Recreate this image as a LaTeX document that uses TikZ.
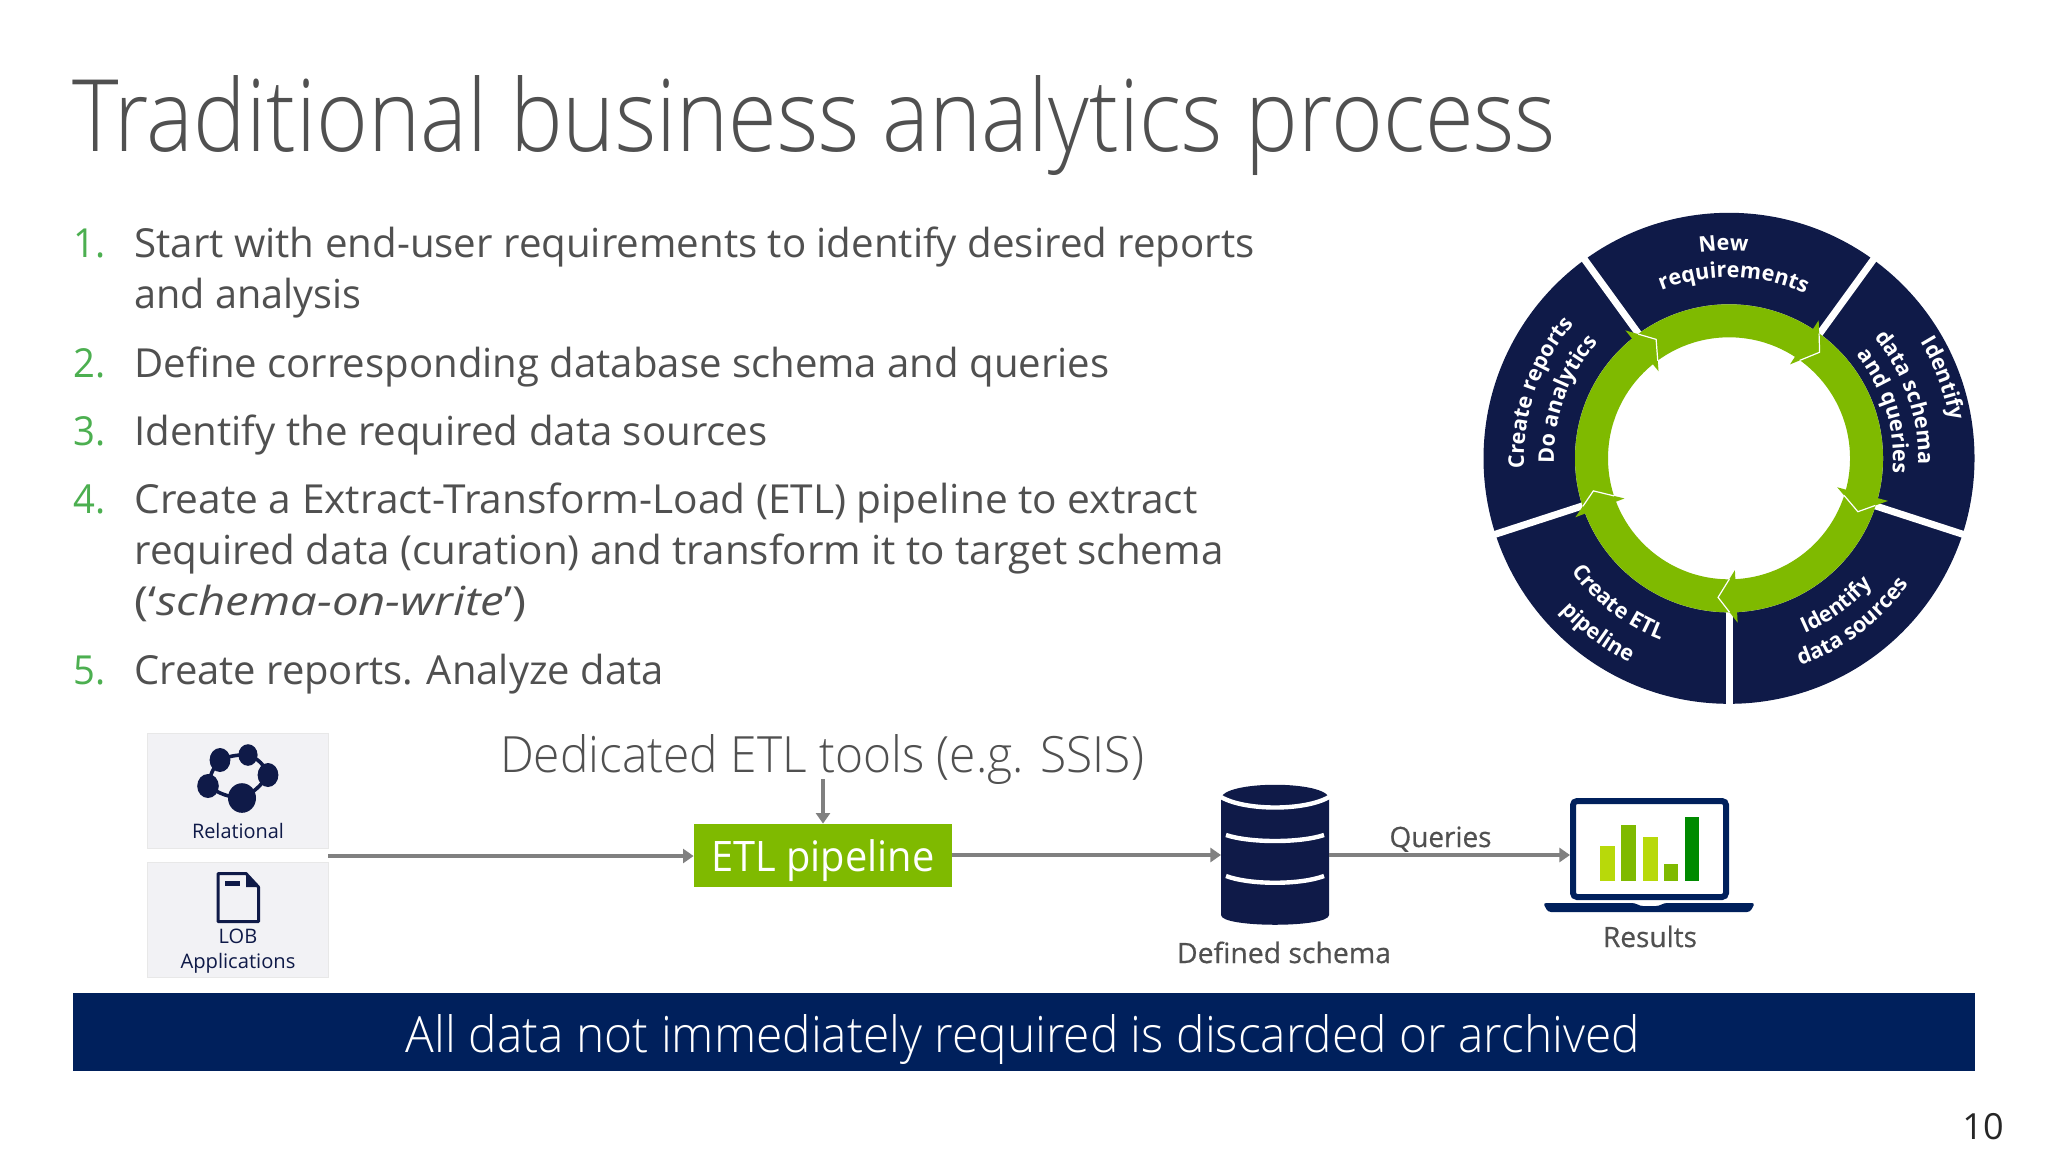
\documentclass[tikz,border=0pt]{standalone}
\usepackage{fontspec}
\usepackage{graphicx}
\usetikzlibrary{arrows.meta,calc,decorations.text}
\setmainfont{Open Sans}
\newfontfamily\lightf{Open Sans Light}
\newfontfamily\medf[FakeBold=0.5]{Open Sans}
\definecolor{navy}{HTML}{0F1A48}
\definecolor{barblue}{HTML}{00205C}
\definecolor{msgreen}{HTML}{7FBA00}
\definecolor{limeg}{HTML}{B8D90A}
\definecolor{darkg}{HTML}{008A00}
\definecolor{numg}{HTML}{4CAF50}
\definecolor{bodyc}{HTML}{505050}
\definecolor{flowc}{HTML}{808080}
\definecolor{srcfill}{HTML}{F2F2F5}
\newcommand{\fw}[2]{\resizebox{\dimexpr#1pt/2\relax}{\height}{#2}}
\newcommand{\wheelfont}{\bfseries\fontsize{10.8pt}{12pt}\selectfont}
\newcommand{\arctext}[5]{% radius, centre angle, half span, sign(-1 clockwise,1 ccw), text
  \pgfmathsetmacro{\sa}{#2-#4*#3}
  \pgfmathsetmacro{\ea}{#2+#4*#3}
  \path[decorate,decoration={text along path,text align=center,text color=white,text={|\wheelfont|#5}}]
    (\sa:#1) arc[start angle=\sa,end angle=\ea,radius={#1*0.5pt}];
}
\tikzset{
  x=0.5pt,y=-0.5pt,
  txt/.style={inner sep=0pt,outer sep=0pt,anchor=base west},
  ctxt/.style={inner sep=0pt,outer sep=0pt,anchor=base},
  bodytxt/.style={txt,text=bodyc,font=\fontsize{20pt}{24pt}\selectfont},
  numtxt/.style={txt,text=numg,font=\fontsize{20pt}{24pt}\selectfont},
  srcbox/.style={draw=black!9,fill=srcfill,line width=0.5pt,minimum width=90.5pt,minimum height=57.5pt,inner sep=0pt},
  srctxt/.style={ctxt,text=navy,font=\fontsize{10pt}{12pt}\selectfont},
  grtxt/.style={ctxt,text=bodyc,font=\medf\fontsize{14pt}{16pt}\selectfont},
  flow/.style={draw=flowc,line width=2.4pt,-{Triangle[length=5.3pt,width=7pt]}},
  ghost/.style={inner sep=0pt,outer sep=0pt,minimum width=#1},
}
\begin{document}
\begin{tikzpicture}
\useasboundingbox (0,0) rectangle (2048,1152);
\fill[white] (0,0) rectangle (2048,1152);

% Title
\node[txt,text=bodyc,font=\lightf\fontsize{50pt}{60pt}\selectfont] (title) at (72,151) {\fw{1484}{Traditional business analytics process}};

% List
\node[numtxt] (n1) at (74,257) {\fw{32}{1.}};
\node[bodytxt] (l1a) at (134.5,257) {\fw{1120}{Start with end-user requirements to identify desired reports}};
\node[bodytxt] (l1b) at (134.5,308) {\fw{227}{and analysis}};
\node[numtxt] (n2) at (74,377) {\fw{32}{2.}};
\node[bodytxt] (l2) at (134.5,377) {\fw{975}{Define corresponding database schema and queries}};
\node[numtxt] (n3) at (74,445) {\fw{32}{3.}};
\node[bodytxt] (l3) at (134.5,445) {\fw{633}{Identify the required data sources}};
\node[numtxt] (n4) at (74,513) {\fw{32}{4.}};
\node[bodytxt] (l4a) at (134.5,513) {\fw{1063}{Create a Extract-Transform-Load (ETL) pipeline to extract}};
\node[bodytxt] (l4b) at (134.5,564) {\fw{1089}{required data (curation) and transform it to target schema}};
\node[bodytxt] (l4c) at (134.5,615) {\fw{392}{(‘\textit{schema-on-write}’)}};
\node[numtxt] (n5) at (74,684) {\fw{32}{5.}};
\node[bodytxt] (l5) at (134.5,684) {\fw{529}{Create reports. Analyze data}};

% Wheel
\begin{scope}[shift={(1729,458.3)},x=0.5pt,y=0.5pt]
  \fill[navy] (0,0) circle[radius=122.75pt];
  \foreach \a in {54,126,198,270,342}
    \draw[white,line width=3.5pt] (\a:140) -- (\a:250);
  \fill[white] (0,0) circle[radius=77pt];
  \fill[msgreen,even odd rule] (0,0) circle[radius=77pt] (0,0) circle[radius=60.5pt];
  \foreach \k in {0,...,4}{
    \pgfmathsetmacro{\ab}{57+72*\k}
    \pgfmathsetmacro{\at}{49.5+72*\k}
    \coordinate (ho) at (\ab:164.6);
    \coordinate (hi) at (\ab:112);
    \coordinate (ht) at (\at:139.5);
    \fill[msgreen] (ho) -- (ht) -- (hi) -- cycle;
    \draw[white,line width=0.6pt,line join=miter] ($(ht)!0.58!(ho)$) -- (ht) -- ($(ht)!0.67!(hi)$);
  }
  \arctext{208}{91.5}{40}{-1}{New}
  \arctext{181}{88.5}{42}{-1}{requirements}
  \arctext{224}{20.5}{35}{-1}{Identify}
  \arctext{189}{19}{42}{-1}{data schema}
  \arctext{164}{17}{48}{-1}{and queries}
  \arctext{205}{161}{42}{-1}{Create reports}
  \arctext{175}{160}{45}{-1}{Do analytics}
  \arctext{194}{232.5}{40}{1}{Create ETL}
  \arctext{227}{233}{30}{1}{pipeline}
  \arctext{191}{306}{30}{1}{Identify}
  \arctext{219}{307}{38}{1}{data sources}
\end{scope}

% Source boxes
\node[srcbox] (rel) at (237.5,790.5) {};
\node[srcbox] (lob) at (237.5,919.5) {};
\node[srctxt] (reltxt) at (238,838) {\fw{92}{Relational}};
\node[srctxt] (lobtxt) at (238,943) {LOB};
\node[srctxt] (apptxt) at (238,968) {\fw{115}{Applications}};
% relational icon
\draw[navy,line width=1.8pt] (220,760) to[bend left=12] (248,755) to[bend left=25] (268,775) to[bend left=15] (242,798) to[bend left=15] (208,786) to[bend left=15] cycle;
\fill[navy] (220,760) ellipse[x radius=5.2pt,y radius=6pt] (248,755) ellipse[x radius=4.8pt,y radius=5.4pt] (268,775) ellipse[x radius=5.2pt,y radius=6pt] (208,786) ellipse[x radius=5.4pt,y radius=6pt] (242,798) ellipse[x radius=7pt,y radius=7.4pt];
% document icon
\draw[navy,line width=1.5pt,line join=round] (218,873.5) -- (246,873.5) -- (258.5,887) -- (258.5,921.5) -- (218,921.5) -- cycle;
\fill[navy] (246,873.5) -- (258.5,887) -- (246,887) -- cycle;
\fill[navy] (225,881) rectangle (240,886);

% ETL
\coordinate (srcout) at (328,856);
\node[fill=msgreen,minimum width=129pt,minimum height=31.5pt,inner sep=0pt] (etl) at (823,855.5) {};
\node[ctxt,text=white,font=\fontsize{21pt}{24pt}\selectfont] (etltxt) at (823,871) {\fw{223}{ETL pipeline}};
\node[ctxt,text=bodyc,font=\lightf\fontsize{25pt}{30pt}\selectfont] (tools) at (822,772) {\fw{644}{Dedicated ETL tools (e.g. SSIS)}};
\coordinate (toolout) at (823,779);
\draw[flow] (srcout) -- (etl.west |- srcout);
\draw[flow] (toolout) -- (etl.north);

% Database
\node[ghost=54pt,minimum height=70pt] (db) at (1275,855) {};
\fill[navy] (1221,799)
  .. controls (1221,780) and (1329,780) .. (1329,799)
  -- (1329,915) .. controls (1329,928) and (1221,928) .. (1221,915) -- cycle;
\draw[white,line width=2.2pt] (1221,797) .. controls (1245,811) and (1305,811) .. (1329,797);
\draw[white,line width=2.2pt] (1226,835) .. controls (1250,843) and (1300,843) .. (1324,835);
\draw[white,line width=2.2pt] (1226,876) .. controls (1250,885) and (1300,885) .. (1324,876);

% Laptop
\node[ghost=79.5pt,minimum height=51pt] (lap) at (1649.5,849) {};
\draw[barblue,line width=3pt,rounded corners=2pt] (1573,801) rectangle (1726,897);
\fill[barblue,rounded corners=1.5pt] (1543,903) -- (1635,903) -- (1640,906) -- (1659,906) -- (1664,903) -- (1755,903) -- (1750,912) -- (1548,912) -- cycle;
\fill[limeg] (1600,846) rectangle (1615,881);
\fill[msgreen] (1621,825) rectangle (1635.5,881);
\fill[limeg] (1642.5,837) rectangle (1658,881);
\fill[msgreen] (1664,864) rectangle (1678,881);
\fill[darkg] (1684.5,817) rectangle (1699,881);

\draw[flow] (etl.east |- db.west) -- (db.west);
\draw[flow] (db.east) -- (db.east -| lap.west);

\node[grtxt] (q) at (1440.5,847) {\fw{102}{Queries}};
\node[grtxt] (ds) at (1284,963) {\fw{214}{Defined schema}};
\node[grtxt] (res) at (1650,947) {\fw{94}{Results}};

% Banner
\node[fill=barblue,minimum width=951pt,minimum height=39pt,inner sep=0pt] (ban) at (1024,1032) {};
\node[ctxt,text=white,font=\lightf\fontsize{25pt}{30pt}\selectfont] (bantxt) at (1023,1052) {\fw{1234}{All data not immediately required is discarded or archived}};

% Page number
\node[ctxt,text=black!85,font=\fontsize{18pt}{20pt}\selectfont] (pg) at (1983,1139) {10};
\end{tikzpicture}
\end{document}
